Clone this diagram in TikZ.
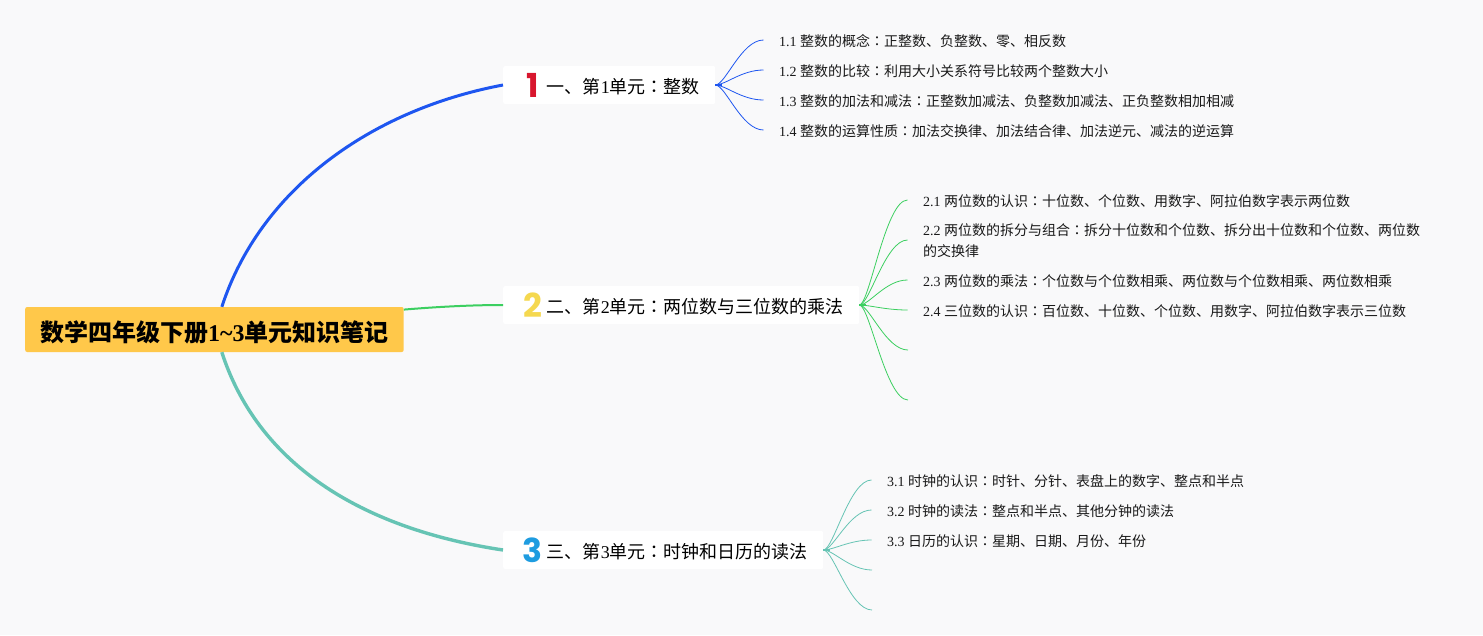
\documentclass[tikz,border=0pt]{standalone}
\usepackage{fontspec}
\setmainfont{Noto Sans CJK SC}
\newfontfamily\latfont{Liberation Serif}
\newfontfamily\tcfont{Noto Sans CJK TC}
\newfontfamily\numfont{Poppins}
\newcommand{\lat}[1]{{\latfont #1}}
\newcommand{\cln}{{\tcfont ：}}
\newcommand{\unitnum}[2]{\makebox[24pt]{\smash{\raisebox{-4pt}{\fontsize{33}{33}\numfont\bfseries\textcolor{#1}{#2}}}}\hspace{2.5pt}}
\definecolor{pagebg}{HTML}{F9F9FA}
\definecolor{rootbg}{HTML}{FFC84A}
\definecolor{lineblue}{HTML}{1E56F0}
\definecolor{linegreen}{HTML}{3CCF60}
\definecolor{lineteal}{HTML}{66C4B4}
\definecolor{numred}{HTML}{D8162E}
\definecolor{numyellow}{HTML}{F5D84F}
\definecolor{numblue}{HTML}{1E9CE0}
\begin{document}
\begin{tikzpicture}[x=1pt,y=-1pt,
    rootbox/.style={anchor=west,fill=rootbg,rounded corners=2pt,inner xsep=15pt,inner ysep=0pt,minimum height=45pt,text height=23pt,text depth=0pt,font=\fontsize{24}{24}\selectfont\bfseries},
    unitbox/.style={anchor=west,fill=white,rounded corners=2pt,inner xsep=15pt,inner ysep=0pt,minimum height=38pt,minimum width=#1,text height=16pt,text depth=0pt,font=\fontsize{18}{18}\selectfont},
    leaf/.style={anchor=west,inner xsep=15.5pt,inner ysep=0pt,align=left,text=black!90,text height=12.6pt,text depth=0pt,font=\fontsize{14}{21}\selectfont},
    trunk/.style={line width=3pt},
    stub/.style={line width=2pt},
    twig/.style={line width=0.8pt,out=0,in=180,out distance=10pt,in distance=22pt}]
  \useasboundingbox (0,0) rectangle (1483,635);
  \fill[pagebg] (0,0) rectangle (1483,635); % page
  \node[rootbox] (root) at (25,329.5) {数学四年级下册\lat{\bfseries 1\textasciitilde 3}单元知识笔记}; % root
  \node[unitbox=212pt] (u1) at (503,85) {\hspace{2pt}\unitnum{numred}{1}一、第\lat{1}单元\cln 整数}; % unit 1
  \node[unitbox=356pt] (u2) at (503,305) {\hspace{2pt}\unitnum{numyellow}{2}二、第\lat{2}单元\cln 两位数与三位数的乘法};
  \node[unitbox=320pt] (u3) at (503,550) {\hspace{2pt}\unitnum{numblue}{3}三、第\lat{3}单元\cln 时钟和日历的读法};
  % leaves of unit 1
  \node[leaf] (l11) at (763.5,40) {\lat{1.1 }整数的概念\cln 正整数、负整数、零、相反数};
  \node[leaf] (l12) at (763.5,70) {\lat{1.2 }整数的比较\cln 利用大小关系符号比较两个整数大小};
  \node[leaf] (l13) at (763.5,100) {\lat{1.3 }整数的加法和减法\cln 正整数加减法、负整数加减法、正负整数相加相减};
  \node[leaf] (l14) at (763.5,130) {\lat{1.4 }整数的运算性质\cln 加法交换律、加法结合律、加法逆元、减法的逆运算};
  % leaves of unit 2
  \node[leaf] (l21) at (907.5,200) {\lat{2.1 }两位数的认识\cln 十位数、个位数、用数字、阿拉伯数字表示两位数};
  \node[leaf,text height=33.6pt] (l22) at (907.5,240) {\lat{2.2 }两位数的拆分与组合\cln 拆分十位数和个位数、拆分出十位数和个位数、两位数\\的交换律};
  \node[leaf] (l23) at (907.5,280) {\lat{2.3 }两位数的乘法\cln 个位数与个位数相乘、两位数与个位数相乘、两位数相乘};
  \node[leaf] (l24) at (907.5,310) {\lat{2.4 }三位数的认识\cln 百位数、十位数、个位数、用数字、阿拉伯数字表示三位数};
  \coordinate (l25) at (908,350); % empty branch
  \coordinate (l26) at (908,400);
  % leaves of unit 3
  \node[leaf] (l31) at (871.5,480) {\lat{3.1 }时钟的认识\cln 时针、分针、表盘上的数字、整点和半点};
  \node[leaf] (l32) at (871.5,510) {\lat{3.2 }时钟的读法\cln 整点和半点、其他分钟的读法};
  \node[leaf] (l33) at (871.5,540) {\lat{3.3 }日历的认识\cln 星期、日期、月份、年份};
  \coordinate (l34) at (872,570);
  \coordinate (l35) at (872,610);
  \coordinate (s1) at (722,85); % short stubs
  \coordinate (s2) at (866,305);
  \coordinate (s3) at (830,550);
  % trunks
  \draw[trunk,lineblue] (root) .. controls (260,190) and (370,110) .. (u1.west);
  \draw[trunk,linegreen,line width=2pt] (root.6.3) .. controls (435,307) and (470,305) .. (u2.west);
  \draw[trunk,lineteal,line width=3.4pt] (root) .. controls (260,470) and (370,530) .. (u3.west);
  % twigs
  \draw[stub,lineblue] (u1.east) -- (s1);
  \draw[twig,lineblue] (u1.east) to (l11.west);
  \draw[twig,lineblue] (u1.east) to (l12.west);
  \draw[twig,lineblue] (u1.east) to (l13.west);
  \draw[twig,lineblue] (u1.east) to (l14.west);
  \draw[stub,linegreen] (u2.east) -- (s2);
  \draw[twig,linegreen] (u2.east) to (l21.west);
  \draw[twig,linegreen] (u2.east) to (l22.west);
  \draw[twig,linegreen] (u2.east) to (l23.west);
  \draw[twig,linegreen] (u2.east) to (l24.west);
  \draw[twig,linegreen] (u2.east) to (l25);
  \draw[twig,linegreen] (u2.east) to (l26);
  \draw[stub,lineteal] (u3.east) -- (s3);
  \draw[twig,lineteal] (u3.east) to (l31.west);
  \draw[twig,lineteal] (u3.east) to (l32.west);
  \draw[twig,lineteal] (u3.east) to (l33.west);
  \draw[twig,lineteal] (u3.east) to (l34);
  \draw[twig,lineteal] (u3.east) to (l35);
\end{tikzpicture}
\end{document}
